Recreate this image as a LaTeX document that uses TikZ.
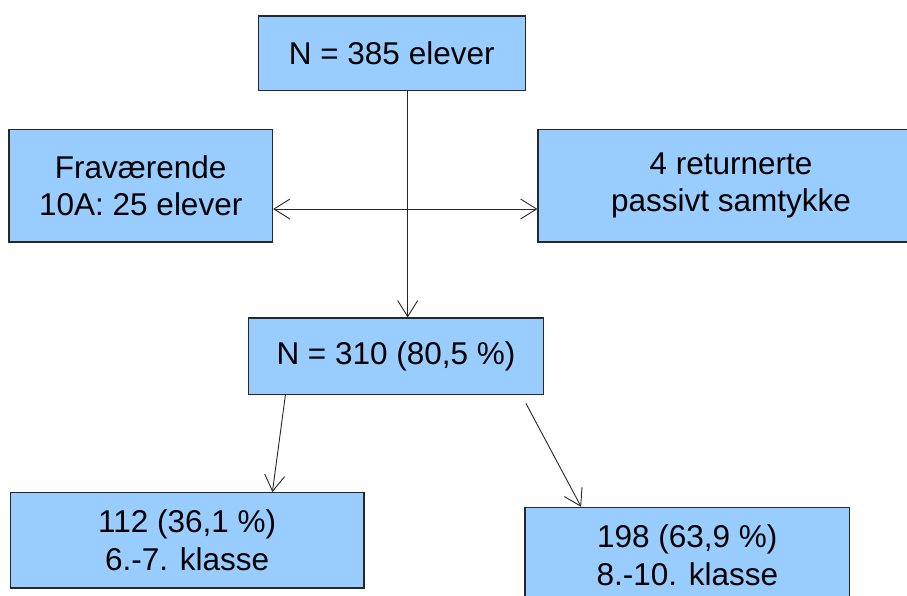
\documentclass[tikz,border=0pt]{standalone}
\usepackage{fontspec}
\setmainfont{Liberation Sans}
\usetikzlibrary{arrows.meta}
\definecolor{boksblaa}{RGB}{153,204,255}
\definecolor{kant}{RGB}{40,40,40}
\tikzset{
boks/.style={draw=kant,fill=boksblaa,line width=1.2pt,align=center,inner sep=0pt,font=\fontsize{31.5}{37.5}\selectfont},
pil/.style={draw=black!85,line width=0.9pt,-{Straight Barb[length=16pt,width=20pt]}}
}

\begin{document}
\begin{tikzpicture}[x=1pt,y=-1pt]
\useasboundingbox (0,0) rectangle (907,595);
\node[boks,minimum width=267pt,minimum height=74.5pt] (alle) at (391.7,53.3) {N = 385 elever};
\node[boks,minimum width=263.5pt,minimum height=112.7pt] (fravaer) at (140.75,185.6) {Fraværende\\10A: 25 elever};
\node[boks,minimum width=386pt,minimum height=112.7pt] (retur) at (731,185.6) {4 returnerte\\passivt samtykke};
\node[boks,minimum width=294.6pt,minimum height=76.3pt] (utvalg) at (396,356.2) {N = 310 (80,5 \%)};
\node[boks,minimum width=353.6pt,minimum height=95.3pt] (klasse67) at (187.2,540.3) {112 (36,1 \%)\\6.-7. klasse};
\node[boks,minimum width=324.7pt,minimum height=95.3pt] (klasse810) at (687.35,555) {198 (63,9 \%)\\8.-10. klasse};

\coordinate (delt) at (389,209);
\draw[pil] ([xshift=16pt]alle.south) -- ([xshift=11.7pt]utvalg.north);
\draw[pil] (delt) -- (fravaer.east |- delt);
\draw[pil] (delt) -- (retur.west |- delt);
\draw[pil] ([xshift=37.3pt]utvalg.south west) -- ([xshift=262.6pt]klasse67.north west);
\draw[pil] ([xshift=-18pt,yshift=-8.4pt]utvalg.south east) -- ([xshift=56.7pt]klasse810.north west);
\end{tikzpicture}
\end{document}
